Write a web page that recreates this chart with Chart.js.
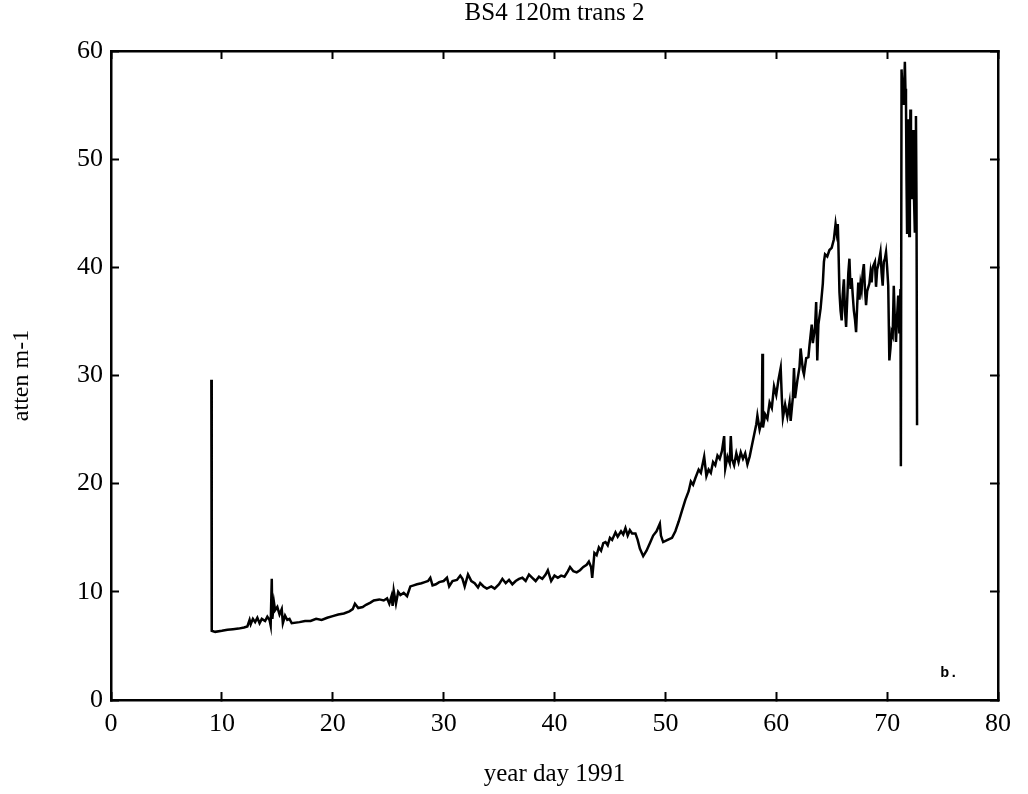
<!DOCTYPE html>
<html>
<head>
<meta charset="utf-8">
<title>BS4 120m trans 2</title>
<script src="https://cdn.jsdelivr.net/npm/chart.js@4"></script>
<style>
  body { margin: 0; background: #fff; }
</style>
</head>
<body>
<canvas id="grafico" width="1028" height="794"></canvas>
<script>
const tituloGrafico = "BS4 120m trans 2";
const tituloX = "year day 1991";
const tituloY = "atten m-1";

const ticksX = [0, 10, 20, 30, 40, 50, 60, 70, 80];
const ticksY = [0, 10, 20, 30, 40, 50, 60];

// year day (8 per line, same layout as atenuacao)
const dias = [
  9.05, 9.07, 9.1, 9.4, 10, 10.5, 11, 11.5,
  12, 12.3, 12.5, 12.6, 12.8, 13.0, 13.2, 13.4,
  13.6, 13.9, 14.1, 14.3, 14.4, 14.5, 14.55, 14.7,
  14.8, 15.0, 15.2, 15.4, 15.5, 15.7, 15.9, 16.1,
  16.3, 17, 17.5, 18, 18.5, 19, 19.5, 20,
  20.5, 21, 21.5, 21.8, 22.0, 22.3, 22.7, 23.0,
  23.4, 23.7, 24.2, 24.6, 24.9, 25.1, 25.3, 25.4,
  25.5, 25.7, 25.9, 26.1, 26.4, 26.7, 27.0, 27.3,
  27.6, 28.0, 28.3, 28.6, 28.8, 29.0, 29.3, 29.6,
  30.0, 30.3, 30.5, 30.8, 31.2, 31.5, 31.7, 31.9,
  32.2, 32.5, 32.8, 33.1, 33.3, 33.6, 33.9, 34.3,
  34.6, 35.0, 35.3, 35.6, 35.9, 36.2, 36.5, 36.8,
  37.1, 37.4, 37.7, 38.0, 38.3, 38.6, 38.9, 39.2,
  39.4, 39.7, 40.0, 40.3, 40.6, 40.9, 41.2, 41.4,
  41.7, 42.0, 42.3, 42.6, 42.9, 43.1, 43.3, 43.4,
  43.5, 43.6, 43.8, 44.0, 44.2, 44.4, 44.6, 44.8,
  45.0, 45.2, 45.5, 45.7, 46.0, 46.2, 46.4, 46.6,
  46.8, 47.0, 47.3, 47.5, 47.7, 48.0, 48.3, 48.6,
  48.9, 49.2, 49.5, 49.6, 49.8, 50.2, 50.6, 50.9,
  51.2, 51.5, 51.8, 52.1, 52.3, 52.5, 52.7, 53.0,
  53.2, 53.5, 53.7, 53.9, 54.1, 54.3, 54.5, 54.7,
  54.9, 55.1, 55.3, 55.4, 55.6, 55.8, 55.9, 56.0,
  56.2, 56.4, 56.6, 56.8, 57.0, 57.2, 57.4, 57.6,
  57.8, 58.0, 58.2, 58.3, 58.5, 58.7, 58.75, 58.8,
  59.0, 59.2, 59.4, 59.6, 59.8, 60.0, 60.2, 60.4,
  60.5, 60.6, 60.8, 61.0, 61.2, 61.3, 61.5, 61.6,
  61.7, 61.9, 62.1, 62.2, 62.4, 62.5, 62.7, 62.9,
  63.0, 63.2, 63.3, 63.5, 63.6, 63.7, 63.8, 64.0,
  64.2, 64.3, 64.4, 64.6, 64.8, 65.0, 65.2, 65.35,
  65.45, 65.55, 65.6, 65.7, 65.8, 65.9, 66.0, 66.1,
  66.2, 66.3, 66.4, 66.5, 66.6, 66.7, 66.8, 66.9,
  67.0, 67.1, 67.2, 67.3, 67.4, 67.5, 67.6, 67.7,
  67.8, 67.9, 68.0, 68.1, 68.2, 68.4, 68.5, 68.6,
  68.7, 68.9, 69.0, 69.1, 69.2, 69.4, 69.5, 69.6,
  69.7, 69.8, 69.9, 70.0, 70.1, 70.2, 70.3, 70.4,
  70.5, 70.6, 70.7, 70.8, 70.9, 71.0, 71.1, 71.15,
  71.2, 71.23, 71.25, 71.3, 71.4, 71.45, 71.5, 71.6,
  71.65, 71.7, 71.75, 71.8, 71.85, 71.9, 71.95, 72.0,
  72.05, 72.1, 72.15, 72.2, 72.3, 72.35, 72.4, 72.5,
  72.55, 72.6, 72.65, 72.7
];

// atten m-1
const atenuacao = [
  29.6, 27.5, 6.4, 6.3, 6.4, 6.5, 6.55, 6.6,
  6.7, 6.8, 7.4, 7.0, 7.5, 7.2, 7.6, 7.1,
  7.5, 7.3, 7.7, 7.4, 6.9, 11.2, 7.5, 9.0,
  8.3, 8.6, 7.9, 8.4, 7.1, 7.8, 7.4, 7.5,
  7.1, 7.2, 7.3, 7.3, 7.5, 7.4, 7.6, 7.75,
  7.9, 8.0, 8.2, 8.4, 8.9, 8.5, 8.6, 8.8,
  9.0, 9.2, 9.3, 9.2, 9.4, 8.9, 9.6, 8.7,
  10.1, 8.9, 10.0, 9.7, 9.9, 9.6, 10.5, 10.6,
  10.7, 10.8, 10.9, 11.0, 11.3, 10.6, 10.7, 10.9,
  11.0, 11.3, 10.5, 11.0, 11.1, 11.5, 11.2, 10.5,
  11.6, 11.0, 10.8, 10.4, 10.8, 10.5, 10.3, 10.5,
  10.3, 10.7, 11.2, 10.8, 11.1, 10.7, 11.0, 11.2,
  11.3, 11.0, 11.6, 11.3, 11.0, 11.4, 11.2, 11.6,
  12.0, 11.0, 11.5, 11.3, 11.5, 11.4, 11.9, 12.3,
  11.9, 11.8, 12.0, 12.3, 12.5, 12.8, 12.3, 11.3,
  12.4, 13.6, 13.4, 14.1, 13.8, 14.5, 14.6, 14.3,
  15.0, 14.8, 15.5, 15.1, 15.6, 15.3, 15.9, 15.2,
  15.7, 15.4, 15.4, 14.8, 14.0, 13.3, 13.8, 14.5,
  15.2, 15.6, 16.3, 15.2, 14.6, 14.8, 15.0, 15.6,
  16.5, 17.5, 18.5, 19.3, 20.2, 19.9, 20.5, 21.3,
  21.0, 22.5, 20.7, 21.3, 21.0, 22.0, 21.7, 22.6,
  22.3, 23.0, 24.4, 21.4, 22.5, 21.9, 24.4, 22.3,
  21.7, 22.8, 22.0, 22.9, 22.3, 22.8, 21.8, 22.5,
  23.5, 24.5, 25.5, 26.3, 25.0, 25.8, 32.0, 25.2,
  26.4, 26.0, 27.5, 27.0, 29.0, 28.2, 29.6, 30.7,
  28.0, 26.1, 27.3, 26.2, 27.5, 25.8, 28.0, 30.7,
  27.9, 29.5, 30.8, 32.5, 30.5, 30.1, 31.6, 31.7,
  32.8, 34.7, 33.0, 34.5, 36.8, 31.4, 34.7, 36.2,
  38.5, 40.5, 41.2, 41.0, 41.6, 41.8, 42.6, 44.0,
  43.2, 44.0, 42.3, 37.7, 36.0, 35.1, 37.5, 38.9,
  36.0, 34.5, 37.0, 39.5, 40.8, 38.0, 39.0, 37.4,
  36.0, 35.2, 34.0, 36.5, 38.6, 37.0, 38.5, 37.9,
  39.5, 40.3, 38.0, 36.5, 37.8, 38.5, 39.5, 38.6,
  40.0, 40.5, 38.2, 39.8, 40.2, 41.4, 39.5, 38.3,
  40.5, 40.8, 41.4, 40.0, 38.3, 31.4, 32.5, 34.0,
  33.7, 38.3, 35.0, 33.1, 35.5, 37.4, 34.0, 35.5,
  38.0, 34.5, 21.6, 58.3, 56.0, 57.3, 55.0, 59.0,
  56.5, 55.5, 48.0, 43.2, 50.0, 53.7, 47.0, 42.9,
  50.0, 54.6, 49.0, 46.3, 51.5, 52.7, 47.5, 43.2,
  50.0, 54.0, 46.0, 25.4
];

// small note in the lower right corner of the plot
const nota = { texto: "b.", dia: 75.6, valor: 2.5 };

const fonteSerif = "'Liberation Serif', 'Times New Roman', serif";

const pontos = dias.map((d, i) => ({ x: d, y: atenuacao[i] }));

const pluginNota = {
  id: "nota",
  afterDraw(chart) {
    const ctx = chart.ctx;
    const px = chart.scales.x.getPixelForValue(nota.dia);
    const py = chart.scales.y.getPixelForValue(nota.valor);
    ctx.save();
    ctx.fillStyle = "#000";
    ctx.font = "bold 15px 'Liberation Mono', monospace";
    ctx.textAlign = "center";
    ctx.textBaseline = "middle";
    ctx.fillText(nota.texto, px, py);
    ctx.restore();
  }
};

function eixo(posicao, min, max, ticks, extra) {
  return Object.assign({
    type: "linear",
    position: posicao,
    min: min,
    max: max,
    afterBuildTicks: (scale) => {
      scale.ticks = ticks.map((v) => ({ value: v }));
    },
    grid: {
      drawOnChartArea: false,
      drawTicks: true,
      tickLength: -8,
      tickWidth: 2,
      tickColor: "#000"
    },
    border: { display: true, color: "#000", width: 2.5 }
  }, extra);
}

const ctx = document.getElementById("grafico").getContext("2d");

new Chart(ctx, {
  type: "line",
  data: {
    datasets: [
      {
        label: tituloGrafico,
        data: pontos,
        borderColor: "#000",
        borderWidth: 2.5,
        pointRadius: 0,
        fill: false,
        tension: 0,
        xAxisID: "x",
        yAxisID: "y"
      }
    ]
  },
  options: {
    responsive: false,
    animation: false,
    layout: { padding: 0 },
    plugins: {
      legend: { display: false },
      tooltip: { enabled: false },
      title: { display: false }
    },
    scales: {
      x: eixo("bottom", 0, 80, ticksX, {
        afterFit: (scale) => { scale.height = 94; },
        ticks: {
          color: "#000",
          padding: 17,
          maxRotation: 0,
          font: { family: fonteSerif, size: 26 }
        },
        title: {
          display: true,
          text: tituloX,
          color: "#000",
          font: { family: fonteSerif, size: 25, lineHeight: 1 },
          padding: { top: 0, bottom: 7 }
        }
      }),
      x2: eixo("top", 0, 80, ticksX, {
        afterFit: (scale) => { scale.height = 51; },
        ticks: { display: false },
        title: {
          display: true,
          text: tituloGrafico,
          color: "#000",
          font: { family: fonteSerif, size: 25, lineHeight: 1 },
          padding: { top: 1, bottom: 0 }
        }
      }),
      y: eixo("left", 0, 60, ticksY, {
        afterFit: (scale) => { scale.width = 111; },
        ticks: {
          color: "#000",
          padding: 16,
          font: { family: fonteSerif, size: 26 }
        },
        title: {
          display: true,
          text: tituloY,
          color: "#000",
          font: { family: fonteSerif, size: 24, lineHeight: 1 },
          padding: { top: 10, bottom: 0 }
        }
      }),
      y2: eixo("right", 0, 60, ticksY, {
        afterFit: (scale) => { scale.width = 20; },
        ticks: { display: false }
      })
    }
  },
  plugins: [pluginNota]
});
</script>
</body>
</html>
